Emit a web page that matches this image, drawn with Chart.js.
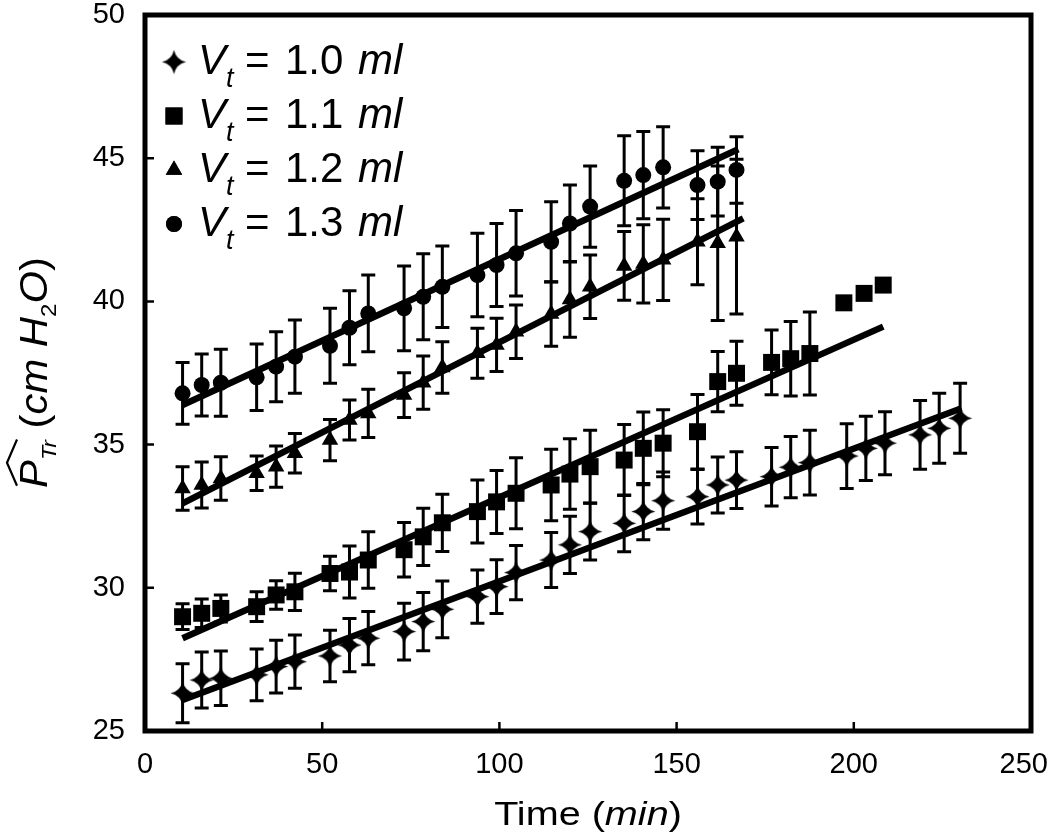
<!DOCTYPE html>
<html><head><meta charset="utf-8">
<script src="https://cdn.jsdelivr.net/npm/chart.js@4"></script>
<style>html,body{margin:0;padding:0;background:#fff}#wrap{width:1050px;height:839px}</style>
</head><body><div id="wrap"><canvas id="c" width="1050" height="839"></canvas></div>
<script>
// ---------- data ----------
const seriesLabels = ['1.0', '1.1', '1.2', '1.3'];
const xTickValues = [0, 50, 100, 150, 200, 250];
const yTickValues = [25, 30, 35, 40, 45, 50];

const timeCommon = [10.6,16.0,21.4,31.5,37.0,42.3,52.2,57.7,63.0,73.1,78.5,83.9,93.8,99.2,104.7,114.6,119.9,125.6,135.2,140.6,146.2,155.9,161.6,166.9];
const time10 = timeCommon.concat([176.8,182.2,187.6,198.0,203.4,208.8,218.7,224.1,230.0]);
const time11 = timeCommon.concat([176.8,182.2,187.6,197.2,202.9,208.3]);
const time12 = timeCommon.slice();
const time13 = timeCommon.slice();

const val10 = [26.32,26.78,26.84,26.96,27.25,27.42,27.62,28.0,28.24,28.47,28.82,29.25,29.69,30.04,30.53,30.97,31.5,31.96,32.25,32.66,33.04,33.18,33.59,33.76,33.88,34.21,34.37,34.6,34.87,35.05,35.34,35.57,35.92];
const err10 = [1.03,0.98,0.95,0.9,0.92,0.93,0.9,0.93,0.93,0.99,1.02,0.99,0.93,0.94,0.95,0.96,1.0,0.99,0.99,0.98,1.0,0.95,0.98,0.99,1.02,1.07,1.13,1.13,1.12,1.1,1.2,1.22,1.22];

const val11 = [28.99,29.11,29.28,29.34,29.75,29.86,30.5,30.55,30.97,31.33,31.78,32.27,32.66,33.0,33.3,33.59,33.97,34.23,34.46,34.87,35.05,35.45,37.2,37.49,37.87,38.0,38.18,39.95,40.28,40.57];
const err11 = [0.45,0.5,0.47,0.52,0.5,0.65,0.6,0.91,0.99,0.95,1.0,1.0,1.1,1.1,1.24,1.25,1.23,1.27,1.24,1.27,1.17,1.3,1.05,1.12,1.13,1.3,1.45,0,0,0];

const val12 = [33.47,33.59,33.82,34.0,34.23,34.7,35.16,35.86,36.09,36.73,37.16,37.69,38.19,38.48,38.94,39.56,40.07,40.51,41.24,41.31,41.45,42.08,42.03,42.26];
const err12 = [0.76,0.8,0.76,0.6,0.72,0.69,0.72,0.7,0.84,0.78,0.93,0.9,0.87,0.93,0.93,1.13,1.32,1.11,1.2,1.37,1.42,1.5,2.7,2.7];

const val13 = [36.79,37.08,37.16,37.35,37.72,38.07,38.45,39.08,39.58,39.76,40.16,40.51,40.92,41.27,41.68,42.08,42.72,43.31,44.21,44.41,44.68,44.06,44.18,44.59];
const err13 = [1.08,1.08,1.17,1.16,1.22,1.28,1.31,1.29,1.34,1.48,1.5,1.42,1.46,1.45,1.49,1.4,1.34,1.42,1.57,1.52,1.42,1.2,1.2,1.16];

// linear fit end points
const fitTime10 = [10.6, 230.4], fitVal10 = [26.08, 36.27];
const fitTime11 = [10.6, 208.3], fitVal11 = [28.24, 39.12];
const fitTime12 = [10.6, 168.8], fitVal12 = [32.95, 42.90];
const fitTime13 = [10.6, 167.4], fitVal13 = [36.38, 45.31];

// ---------- styling helpers ----------
const FONT = '"Liberation Sans", Arial, Helvetica, sans-serif';
function makeStar(size) {
  const c = document.createElement('canvas');
  c.width = size; c.height = size;
  const g = c.getContext('2d');
  const m = size / 2, R = size / 2 - 0.5, k = 0.22 * size;
  g.fillStyle = '#000';
  g.beginPath();
  g.moveTo(m, m - R);
  g.quadraticCurveTo(m + k * 0.4, m - k * 0.4, m + R, m);
  g.quadraticCurveTo(m + k * 0.4, m + k * 0.4, m, m + R);
  g.quadraticCurveTo(m - k * 0.4, m + k * 0.4, m - R, m);
  g.quadraticCurveTo(m - k * 0.4, m - k * 0.4, m, m - R);
  g.closePath();
  g.fill();
  return c;
}
const starImg = makeStar(25);

const pts = (t, v) => t.map((x, i) => ({x: x, y: v[i]}));
const markerSets = [
  {t: time10, v: val10, e: err10, style: starImg, r: 12},
  {t: time11, v: val11, e: err11, style: 'rect', r: 12},
  {t: time12, v: val12, e: err12, style: 'triangle', r: 9.5},
  {t: time13, v: val13, e: err13, style: 'circle', r: 8}
];
const fitSets = [[fitTime10, fitVal10], [fitTime11, fitVal11], [fitTime12, fitVal12], [fitTime13, fitVal13]];

const datasets = [];
markerSets.forEach((s, i) => datasets.push({
  label: 'Vt = ' + seriesLabels[i] + ' ml', data: pts(s.t, s.v), showLine: false,
  pointStyle: s.style, pointRadius: s.r, backgroundColor: '#000', borderColor: '#000', borderWidth: 0
}));
fitSets.forEach((f) => datasets.push({
  label: 'fit', data: pts(f[0], f[1]), showLine: true, pointRadius: 0,
  borderColor: '#000', borderWidth: 6.5, backgroundColor: '#000'
}));

const noPad = s => { s.paddingTop = 0; s.paddingBottom = 0; s.paddingLeft = 0; s.paddingRight = 0; };

const decor = {
  id: 'decor',
  beforeDatasetsDraw(chart) {
    const {ctx, scales: {x, y}} = chart;
    ctx.save();
    ctx.strokeStyle = '#000'; ctx.lineWidth = 3;
    markerSets.forEach(s => {
      s.t.forEach((t, i) => {
        const e = s.e[i]; if (!e) return;
        const px = x.getPixelForValue(t);
        const top = y.getPixelForValue(s.v[i] + e), bot = y.getPixelForValue(s.v[i] - e);
        ctx.beginPath();
        ctx.moveTo(px, top); ctx.lineTo(px, bot);
        ctx.moveTo(px - 7, top); ctx.lineTo(px + 7, top);
        ctx.moveTo(px - 7, bot); ctx.lineTo(px + 7, bot);
        ctx.stroke();
      });
    });
    ctx.restore();
  },
  afterDraw(chart) {
    const {ctx, chartArea: a, scales: {x, y}} = chart;
    ctx.save();
    // frame
    ctx.strokeStyle = '#000'; ctx.lineWidth = 5;
    ctx.strokeRect(a.left, a.top, a.right - a.left, a.bottom - a.top);
    // inward ticks
    ctx.lineWidth = 2.5;
    ctx.beginPath();
    xTickValues.forEach(v => { const p = x.getPixelForValue(v); ctx.moveTo(p, a.bottom); ctx.lineTo(p, a.bottom - 9); });
    yTickValues.forEach(v => { const p = y.getPixelForValue(v); ctx.moveTo(a.left, p); ctx.lineTo(a.left + 9, p); });
    ctx.stroke();

    // x tick labels (kept inside the canvas like the reference)
    ctx.fillStyle = '#000';
    ctx.font = '29px ' + FONT;
    ctx.textAlign = 'center'; ctx.textBaseline = 'alphabetic';
    xTickValues.forEach(v => {
      const s = String(v);
      const wdt = ctx.measureText(s).width;
      let p = x.getPixelForValue(v);
      p = Math.min(p, chart.width - wdt / 2 - 2);
      ctx.fillText(s, p, 773);
    });

    // legend
    const rows = [62, 116, 170, 224];
    const mx = 174;
    markerSets.forEach((s, i) => {
      const cy = rows[i];
      Chart.helpers.drawPoint(ctx, {pointStyle: s.style, radius: s.r, borderWidth: 0, rotation: 0}, mx, cy);
      ctx.fill();
      const base = cy + 12;
      ctx.textBaseline = 'alphabetic'; ctx.textAlign = 'left';
      ctx.font = 'italic 42px ' + FONT; ctx.fillText('V', 198, base);
      ctx.font = 'italic 27px ' + FONT; ctx.fillText('t', 226, base + 13);
      ctx.font = '42px ' + FONT; ctx.fillText('=', 245, base);
      ctx.fillText(seriesLabels[i], 285, base);
      ctx.font = 'italic 42px ' + FONT; ctx.fillText('ml', 358, base);
    });

    // x title
    ctx.save();
    const xc = (a.left + a.right) / 2;
    ctx.translate(xc, 825);
    ctx.scale(1.2, 1);
    const parts = [['Time (', '33px '], ['min', 'italic 33px '], [')', '33px ']];
    let w = 0;
    parts.forEach(p => { ctx.font = p[1] + FONT; w += ctx.measureText(p[0]).width; });
    let cx = -w / 2;
    parts.forEach(p => { ctx.font = p[1] + FONT; ctx.fillText(p[0], cx, 0); cx += ctx.measureText(p[0]).width; });
    ctx.restore();

    // y title (rotated)
    ctx.save();
    ctx.translate(47, 488);
    ctx.rotate(-Math.PI / 2);
    ctx.scale(1.1, 1);
    const yp = [
      ['P', 'italic 38px ', 0],
      ['Tr', 'italic 21px ', 9],
      [' (', '38px ', 0],
      ['cm', 'italic 38px ', 0],
      [' ', '38px ', 0],
      ['H', 'italic 38px ', 0],
      ['2', '22px ', 9],
      ['O', 'italic 38px ', 0],
      [')', '38px ', 0]
    ];
    let px = 0;
    yp.forEach(p => { ctx.font = p[1] + FONT; ctx.fillText(p[0], px, p[2]); px += ctx.measureText(p[0]).width; });
    // hat over P
    ctx.lineWidth = 2.2;
    ctx.beginPath();
    ctx.moveTo(2, -30); ctx.lineTo(23, -40); ctx.lineTo(44, -30);
    ctx.stroke();
    ctx.restore();

    ctx.restore();
  }
};

new Chart(document.getElementById('c'), {
  type: 'scatter',
  data: {datasets: datasets},
  options: {
    responsive: false, animation: false, devicePixelRatio: 1, events: [],
    layout: {padding: {top: 15, right: 19, left: 0, bottom: 0}},
    plugins: {legend: {display: false}, tooltip: {enabled: false}},
    scales: {
      x: {
        type: 'linear', min: 0, max: 250,
        afterBuildTicks: s => { s.ticks = xTickValues.map(v => ({value: v})); },
        afterFit: s => { s.height = 108; noPad(s); },
        grid: {display: false, drawTicks: false},
        border: {display: false},
        ticks: {display: false}
      },
      y: {
        type: 'linear', min: 25, max: 50,
        afterBuildTicks: s => { s.ticks = yTickValues.map(v => ({value: v})); },
        afterFit: s => { s.width = 145; noPad(s); },
        grid: {display: false, drawTicks: false},
        border: {display: false},
        ticks: {color: '#000', font: {family: FONT, size: 29}, padding: 20}
      }
    }
  },
  plugins: [decor]
});
</script>
</body></html>
